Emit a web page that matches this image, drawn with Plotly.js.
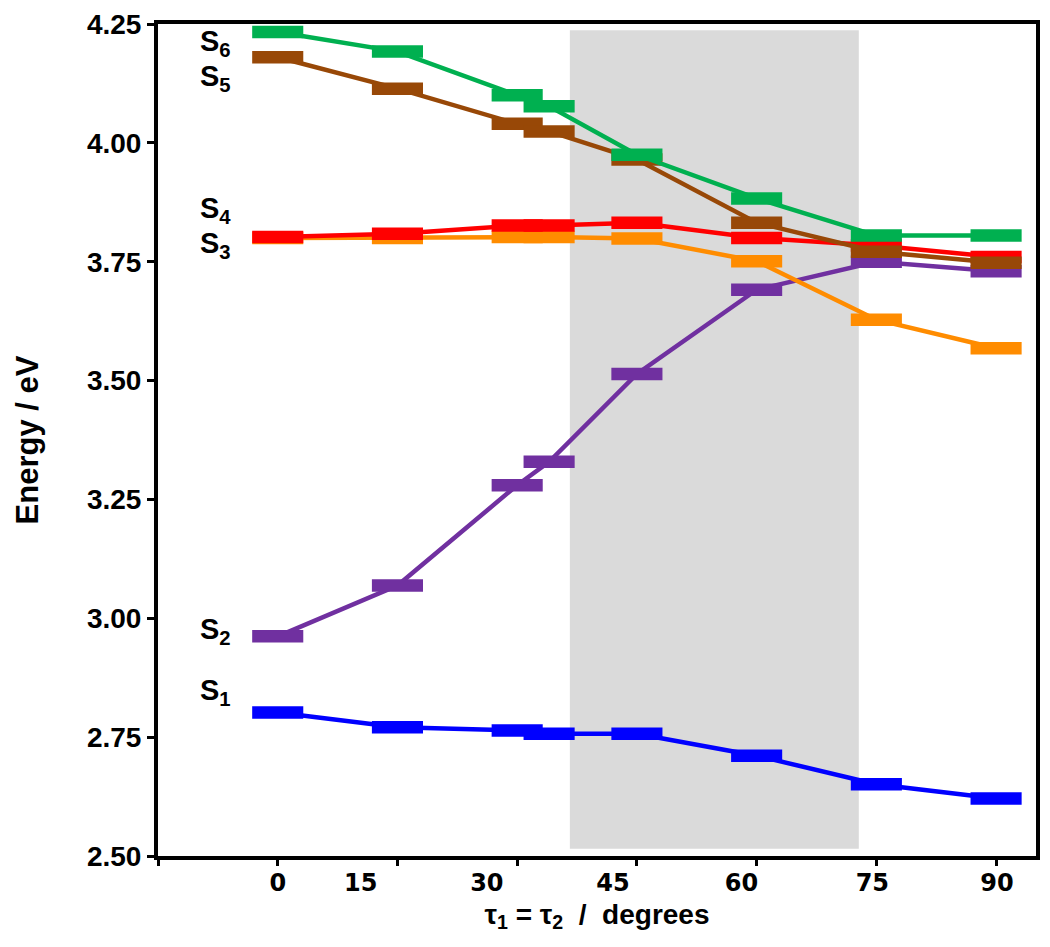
<!DOCTYPE html>
<html>
<head>
<meta charset="utf-8">
<script src="https://cdn.plot.ly/plotly-3.0.1.min.js"></script>
<style>html,body{margin:0;padding:0;background:#fff;}#chart{width:1050px;height:947px;}</style>
</head>
<body>
<div id="chart"></div>
<script>
// torsion angle tau1 = tau2 (degrees)
const angles = [0, 15, 30, 34, 45, 60, 75, 90];
// excitation energies (eV)
const S1 = [2.802, 2.771, 2.764, 2.757, 2.757, 2.711, 2.651, 2.621];
const S2 = [2.962, 3.069, 3.280, 3.329, 3.514, 3.691, 3.750, 3.730];
const S3 = [3.800, 3.800, 3.802, 3.802, 3.799, 3.751, 3.628, 3.568];
const S4 = [3.802, 3.809, 3.826, 3.826, 3.832, 3.800, 3.784, 3.760];
const S5 = [4.180, 4.114, 4.040, 4.024, 3.965, 3.832, 3.771, 3.748];
const S6 = [4.233, 4.192, 4.100, 4.077, 3.975, 3.883, 3.805, 3.805];
const stateNames = ['S1', 'S2', 'S3', 'S4', 'S5', 'S6'];
const stateLabels = ['S<sub>1</sub>', 'S<sub>2</sub>', 'S<sub>3</sub>', 'S<sub>4</sub>', 'S<sub>5</sub>', 'S<sub>6</sub>'];
// x axis ticks and their printed labels
const xTickValues = [-15, 0, 15, 30, 45, 60, 75, 90];
const xTickLabels = ['0', '15', '30', '45', '60', '75', '90'];
const yTickValues = [2.50, 2.75, 3.00, 3.25, 3.50, 3.75, 4.00, 4.25];
const yTickLabels = ['2.50', '2.75', '3.00', '3.25', '3.50', '3.75', '4.00', '4.25'];
// shaded torsion window (degrees)
const shadedWindow = [36.6, 72.8];

// --- styling (kept separate from data) ---
const colors = ['#0000FF', '#7030A0', '#FF8C00', '#FF0000', '#984807', '#00B050'];
const series = [S1, S2, S3, S4, S5, S6];
// where the printed x labels sit in the picture (slightly offset from their ticks)
const xLabelPositions = [0, 10.4, 26.2, 42.0, 58.1, 74.5, 90.1];
const labelPaperY = [0.197, 0.270, 0.734, 0.776, 0.935, 0.977];

const font = 'Arial, "Liberation Sans", sans-serif';
const sp = '\u00A0';

const traces = series.map((ys, i) => ({
  type: 'scatter',
  mode: 'lines+markers',
  name: stateNames[i],
  x: angles,
  y: ys,
  xaxis: 'x',
  yaxis: 'y',
  line: {color: colors[i], width: 4.5},
  marker: {symbol: 'line-ew', size: 36.5, color: colors[i], line: {color: colors[i], width: 12.5}},
  showlegend: false,
  hoverinfo: 'x+y+name'
}));

// invisible helper trace to carry the label axis
traces.push({type: 'scatter', x: [angles[0]], y: [S1[0]], xaxis: 'x2', yaxis: 'y', mode: 'markers', marker: {opacity: 0}, showlegend: false, hoverinfo: 'skip'});

const annotations = stateLabels.map((t, i) => ({
  text: t,
  xref: 'paper', yref: 'paper',
  x: 0.046, y: labelPaperY[i],
  xanchor: 'left', yanchor: 'middle',
  showarrow: false,
  font: {family: font, size: 29, color: '#000', weight: 'bold'}
}));

const layout = {
  width: 1050, height: 947,
  margin: {l: 158, r: 14, t: 24, b: 91},
  paper_bgcolor: '#fff', plot_bgcolor: '#fff',
  showlegend: false,
  xaxis: {
    range: [-15, 95],
    tickmode: 'array', tickvals: xTickValues, showticklabels: false,
    ticks: 'outside', ticklen: 6, tickwidth: 3, tickcolor: '#000',
    showline: true, linewidth: 4, linecolor: '#000', mirror: true,
    showgrid: false, zeroline: false,
    title: {text: 'τ<sub>1</sub> = τ<sub>2</sub>' + sp + sp + '/' + sp + sp + 'degrees', font: {family: font, size: 28, color: '#000', weight: 'bold'}, standoff: 40}
  },
  xaxis2: {
    overlaying: 'x', anchor: 'y', side: 'bottom',
    range: [-15, 95],
    tickmode: 'array', tickvals: xLabelPositions, ticktext: xTickLabels,
    ticks: '', showline: false, showgrid: false, zeroline: false,
    tickfont: {family: '"DejaVu Sans", sans-serif', size: 24, color: '#000', weight: 'bold'},
    ticklabelstandoff: 10
  },
  yaxis: {
    range: [2.5, 4.25],
    tickmode: 'array', tickvals: yTickValues, ticktext: yTickLabels,
    ticks: 'outside', ticklen: 7, tickwidth: 3, tickcolor: '#000',
    showline: true, linewidth: 4, linecolor: '#000', mirror: true,
    showgrid: false, zeroline: false,
    tickfont: {family: font, size: 28, color: '#000', weight: 'bold'},
    title: {text: 'Energy / eV', font: {family: font, size: 31, color: '#000', weight: 'bold'}, standoff: 40}
  },
  shapes: [{
    type: 'rect', xref: 'x', yref: 'y', layer: 'below',
    x0: shadedWindow[0], x1: shadedWindow[1], y0: 2.515, y1: 4.237,
    fillcolor: '#dadada', line: {width: 0}
  }],
  annotations: annotations
};

Plotly.newPlot('chart', traces, layout, {displayModeBar: false, staticPlot: true});
</script>
</body>
</html>
